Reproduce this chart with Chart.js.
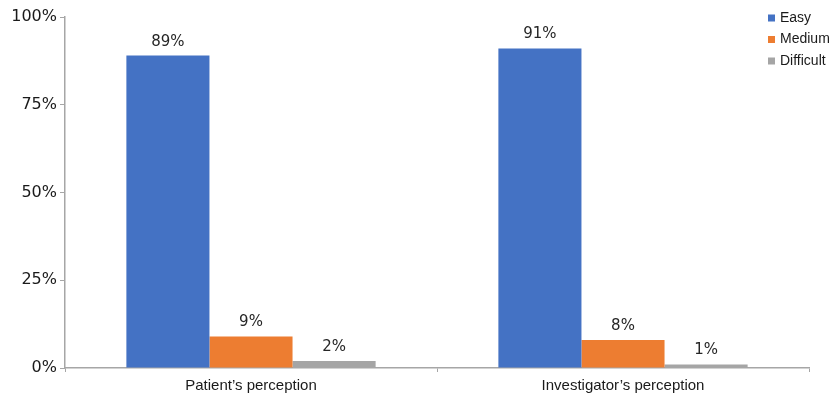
<!DOCTYPE html>
<html>
<head>
<meta charset="utf-8">
<script src="https://cdn.jsdelivr.net/npm/chart.js@4"></script>
<style>
  html, body { margin: 0; padding: 0; background: #fff; }
  #wrap { width: 833px; height: 396px; }
</style>
</head>
<body>
<div id="wrap"><canvas id="chart"></canvas></div>
<script>
// dados
const categories = ["Patient\u2019s perception", "Investigator\u2019s perception"];
const easy = [89, 91];
const medium = [9, 8];
const difficult = [2, 1];
const seriesNames = ["Easy", "Medium", "Difficult"];
const seriesColors = ["#4472C4", "#ED7D31", "#A5A5A5"];
const yTicks = [0, 25, 50, 75, 100];

const axisColor = "#A6A6A6";

// rótulos de valor acima das barras
const valueLabels = {
  id: "valueLabels",
  afterDatasetsDraw(chart) {
    const ctx = chart.ctx;
    ctx.save();
    ctx.font = "15px 'DejaVu Sans'";
    ctx.fillStyle = "#262626";
    ctx.textAlign = "center";
    ctx.textBaseline = "middle";
    chart.data.datasets.forEach((ds, i) => {
      chart.getDatasetMeta(i).data.forEach((bar, j) => {
        ctx.fillText(ds.data[j] + "%", bar.x, bar.y - 14);
      });
    });
    ctx.restore();
  }
};

// legenda vertical no canto superior direito
const cornerLegend = {
  id: "cornerLegend",
  afterDraw(chart) {
    const ctx = chart.ctx;
    ctx.save();
    ctx.font = "14px 'Liberation Sans'";
    ctx.textBaseline = "middle";
    ctx.textAlign = "left";
    chart.data.datasets.forEach((ds, i) => {
      const y = 18 + i * 21.5;
      ctx.fillStyle = ds.backgroundColor;
      ctx.fillRect(768, y - 3.5, 7, 7);
      ctx.fillStyle = "#1a1a1a";
      ctx.fillText(ds.label, 780, y);
    });
    ctx.restore();
  }
};

const ctx = document.getElementById("chart");
new Chart(ctx, {
  type: "bar",
  data: {
    labels: categories,
    datasets: [
      { label: seriesNames[0], data: easy, backgroundColor: seriesColors[0] },
      { label: seriesNames[1], data: medium, backgroundColor: seriesColors[1] },
      { label: seriesNames[2], data: difficult, backgroundColor: seriesColors[2] }
    ]
  },
  options: {
    responsive: true,
    maintainAspectRatio: false,
    animation: false,
    layout: { padding: { left: 0, right: 24, top: 17, bottom: 0 } },
    datasets: { bar: { categoryPercentage: 0.67, barPercentage: 1.0 } },
    plugins: {
      legend: { display: false },
      tooltip: { enabled: false }
    },
    scales: {
      x: {
        afterFit: (s) => { s.height = 28; },
        border: { color: axisColor, width: 1.5 },
        grid: { display: true, drawOnChartArea: false, drawTicks: true, tickLength: 4, color: axisColor, offset: true },
        ticks: { color: "#1a1a1a", font: { family: "Liberation Sans", size: 15 }, padding: 5 }
      },
      y: {
        min: 0,
        max: 100,
        afterFit: (s) => { s.width = 65; },
        afterBuildTicks: (s) => { s.ticks = yTicks.map(v => ({ value: v })); },
        border: { color: axisColor, width: 1.5 },
        grid: { display: true, drawOnChartArea: false, drawTicks: true, tickLength: 5, color: axisColor },
        ticks: {
          color: "#1a1a1a",
          font: { family: "DejaVu Sans", size: 16 },
          padding: 3,
          callback: (v) => v + "%"
        }
      }
    }
  },
  plugins: [valueLabels, cornerLegend]
});
</script>
</body>
</html>
